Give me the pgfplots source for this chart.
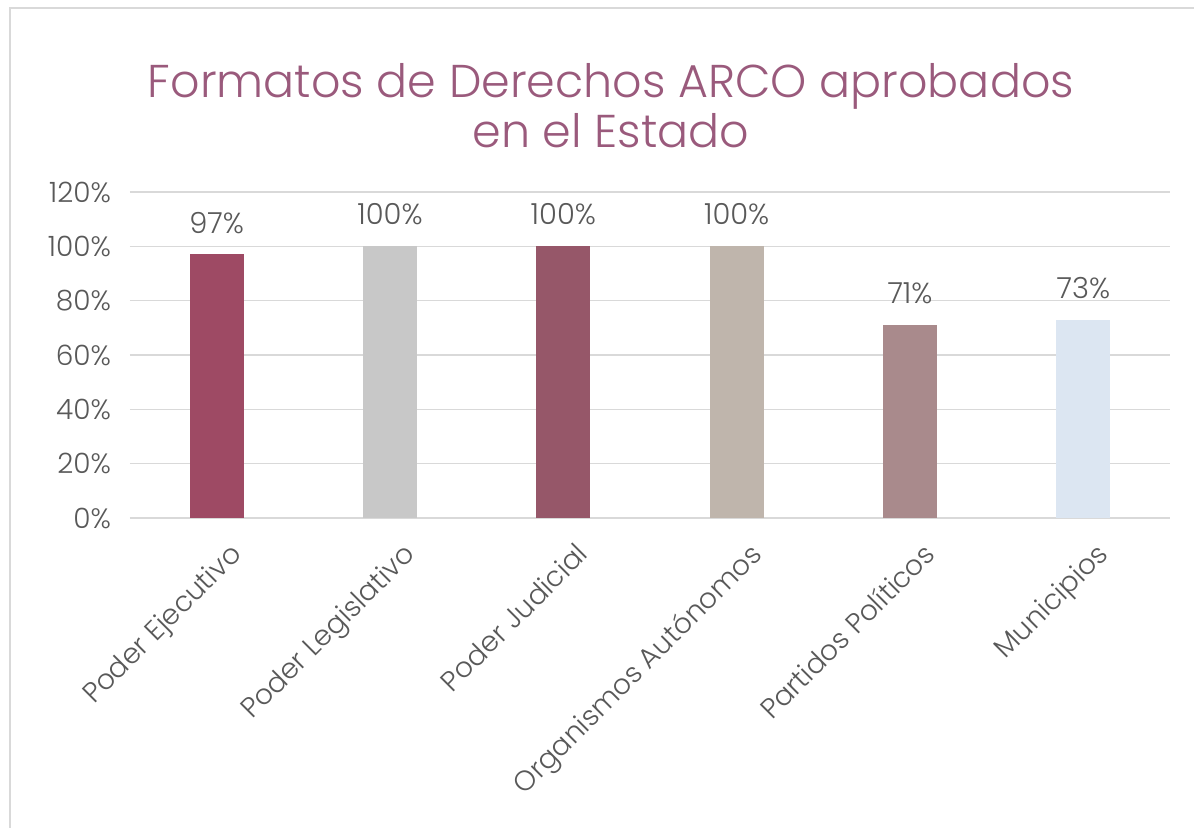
\documentclass[border=0pt]{standalone}
\usepackage{pgfplots}
\pgfplotsset{compat=1.18}
\usepackage{fontspec}
\setmainfont{Poppins}[UprightFont=* Light]
\definecolor{txt}{HTML}{595959}
\definecolor{grid}{HTML}{D9D9D9}
\definecolor{ttl}{HTML}{9A5A7C}
\definecolor{c1}{HTML}{9E4A64}
\definecolor{c2}{HTML}{C8C8C8}
\definecolor{c3}{HTML}{965769}
\definecolor{c4}{HTML}{BFB5AC}
\definecolor{c5}{HTML}{A98A8C}
\definecolor{c6}{HTML}{DCE6F2}
\begin{document}
\begin{tikzpicture}[x=1bp,y=1bp]
\path[use as bounding box] (-65bp,-155bp) rectangle (532bp,259bp);
\draw[line width=0.8bp, draw=grid] (-60bp,-155bp) -- (-60bp,255bp) -- (532bp,255bp);
\begin{axis}[
  scale only axis,
  width=520bp, height=163bp,
  at={(0,0)}, anchor=south west,
  ymin=0, ymax=120, ytick={0,20,...,120},
  xmin=-0.5, xmax=5.5,
  xtick={0,...,5},
  xticklabels={Poder Ejecutivo, Poder Legislativo, Poder Judicial, Organismos Autónomos, Partidos Políticos, Municipios},
  xticklabel style={rotate=45, anchor=north east, font=\fontsize{14bp}{16bp}\selectfont, text=txt, inner sep=1bp, xshift=-3bp, yshift=-11bp},
  yticklabel={\pgfmathprintnumber{\tick}\%},
  yticklabel style={font=\fontsize{14bp}{16bp}\selectfont, text=txt, xshift=-6bp},
  /pgf/number format/assume math mode=true,
  axis line style={draw=none},
  axis x line*=bottom,
  x axis line style={draw=grid, line width=0.8bp},
  major tick length=0pt,
  ymajorgrids, grid style={draw=grid, line width=0.8bp},
  ybar, bar width=27bp, bar shift=0pt,
  nodes near coords={\pgfmathprintnumber{\pgfplotspointmeta}\%},
  nodes near coords style={font=\fontsize{14.5bp}{16bp}\selectfont, text=txt, yshift=7bp},
  clip=false,
]
\addplot[fill=c1, draw=none] coordinates {(0,97)};
\addplot[fill=c2, draw=none] coordinates {(1,100)};
\addplot[fill=c3, draw=none] coordinates {(2,100)};
\addplot[fill=c4, draw=none] coordinates {(3,100)};
\addplot[fill=c5, draw=none] coordinates {(4,71)};
\addplot[fill=c6, draw=none] coordinates {(5,73)};
\end{axis}
\node[text=ttl, align=center, font=\fontsize{23bp}{25bp}\selectfont] at (240.5bp,206bp) {Formatos de Derechos ARCO aprobados\\en el Estado};
\end{tikzpicture}
\end{document}
